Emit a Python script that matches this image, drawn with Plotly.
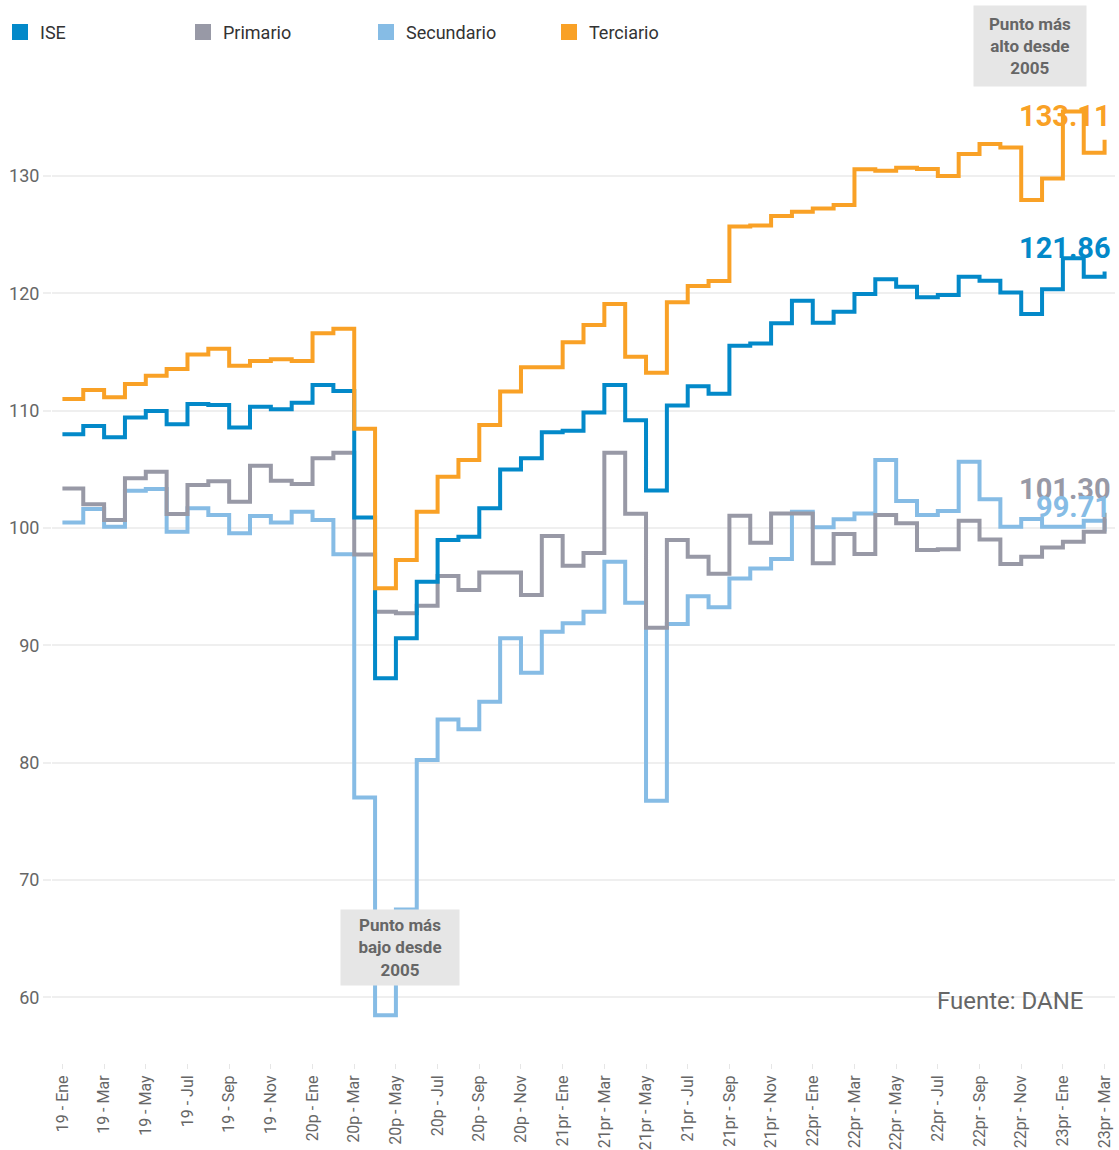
import plotly.graph_objects as go

months = ["Ene", "Feb", "Mar", "Abr", "May", "Jun", "Jul", "Ago", "Sep", "Oct", "Nov", "Dic"]
year_prefixes = ["19", "20p", "21pr", "22pr", "23pr"]
categories = [f"{y} - {m}" for y in year_prefixes for m in months][:51]
tick_labels = categories[::2]

ise = [108.0, 108.7, 107.73, 109.43, 109.97, 108.84, 110.57, 110.49, 108.58, 110.35, 110.12, 110.68,
       112.19, 111.68, 100.91, 87.19, 90.6, 95.42, 98.98, 99.26, 101.68, 105.0, 105.94, 108.16,
       108.3, 109.86, 112.19, 109.2, 103.2, 110.45, 112.08, 111.45, 115.54, 115.74, 117.45, 119.38,
       117.5, 118.44, 119.95, 121.2, 120.57, 119.67, 119.86, 121.43, 121.09, 120.09, 118.24, 120.35,
       122.99, 121.43, 121.86]
primario = [103.38, 102.02, 100.68, 104.24, 104.8, 101.19, 103.67, 104.0, 102.24, 105.31, 104.03, 103.75,
            105.94, 106.42, 97.75, 92.87, 92.73, 93.38, 95.91, 94.71, 96.22, 96.22, 94.29, 99.32,
            96.79, 97.87, 106.42, 101.22, 91.5, 98.98, 97.56, 96.1, 101.05, 98.75, 101.25, 101.25,
            96.99, 99.49, 97.78, 101.11, 100.4, 98.12, 98.2, 100.62, 99.03, 96.93, 97.56, 98.35,
            98.83, 99.68, 101.30]
secundario = [100.48, 101.62, 100.11, 103.18, 103.32, 99.69, 101.68, 101.11, 99.55, 101.02, 100.48, 101.39,
              100.68, 97.76, 77.04, 58.48, 67.49, 80.22, 83.69, 82.86, 85.19, 90.6, 87.66, 91.17,
              91.88, 92.87, 97.13, 93.64, 76.75, 91.82, 94.18, 93.24, 95.71, 96.56, 97.36, 101.39,
              100.06, 100.74, 101.25, 105.8, 102.3, 101.11, 101.45, 105.65, 102.45, 100.11, 100.77, 100.11,
              100.11, 100.62, 99.71]
terciario = [111.0, 111.76, 111.14, 112.28, 112.98, 113.55, 114.8, 115.29, 113.84, 114.24, 114.38, 114.24,
             116.6, 116.99, 108.47, 94.86, 97.27, 101.39, 104.37, 105.8, 108.78, 111.65, 113.7, 113.7,
             115.83, 117.3, 119.1, 114.6, 113.24, 119.24, 120.63, 121.06, 125.7, 125.8, 126.6, 126.97,
             127.25, 127.54, 130.58, 130.45, 130.72, 130.6, 130.0, 131.88, 132.74, 132.45, 127.96, 129.8,
             135.5, 132.0, 133.11]

series = [
    ("ISE", ise, "#0389c9"),
    ("Primario", primario, "#9899a6"),
    ("Secundario", secundario, "#86bce5"),
    ("Terciario", terciario, "#f9a126"),
]
draw_order = ["Secundario", "Primario", "ISE", "Terciario"]
label_order = ["Terciario", "ISE", "Primario", "Secundario"]

FONT = "Roboto"
fig = go.Figure()

# legend entries (square swatches)
for name, vals, color in series:
    fig.add_trace(go.Scatter(x=[None], y=[None], mode="markers", name=name,
                             marker=dict(symbol="square", size=16, color=color),
                             showlegend=True, hoverinfo="skip"))

lookup = {n: (v, c) for n, v, c in series}
for name in draw_order:
    vals, color = lookup[name]
    fig.add_trace(go.Scatter(x=categories, y=vals, mode="lines", name=name,
                             line=dict(shape="hv", width=4, color=color),
                             showlegend=False))

annotations = []
for name in label_order:
    vals, color = lookup[name]
    annotations.append(dict(x=categories[-1], y=vals[-1], xref="x", yref="y",
                            text=f"{vals[-1]:.2f}", showarrow=False,
                            xanchor="right", yanchor="middle", xshift=8, yshift=24,
                            font=dict(family=FONT, size=29, color=color, weight=700)))

box_font = dict(family=FONT, size=17, color="#666666", weight=700)
annotations.append(dict(xref="paper", yref="paper", x=0.3272, y=0.1197,
                        text="Punto más<br>bajo desde<br>2005", showarrow=False,
                        xanchor="center", yanchor="middle", bgcolor="#e6e6e6",
                        borderpad=4, width=110, height=67, font=box_font))
annotations.append(dict(xref="paper", yref="paper", x=0.9205, y=1.0495,
                        text="Punto más<br>alto desde<br>2005", showarrow=False,
                        xanchor="center", yanchor="middle", bgcolor="#e6e6e6",
                        borderpad=4, width=104, height=72, font=box_font))
annotations.append(dict(xref="paper", yref="paper", x=0.9715, y=0.064,
                        text="Fuente: DANE", showarrow=False,
                        xanchor="right", yanchor="middle",
                        font=dict(family=FONT, size=24, color="#666666")))

fig.update_layout(
    width=1119, height=1150,
    margin=dict(l=52, r=4, t=94, b=87, autoexpand=False),
    paper_bgcolor="white", plot_bgcolor="white",
    font=dict(family=FONT, color="#666666"),
    showlegend=True,
    legend=dict(orientation="h", xref="container", yref="container",
                x=-0.002, y=0.988, xanchor="left", yanchor="top",
                entrywidth=138, entrywidthmode="pixels",
                font=dict(family=FONT, size=18, color="#333333"),
                bgcolor="rgba(0,0,0,0)"),
    annotations=annotations,
    hovermode=False,
)
fig.update_xaxes(type="category", categoryorder="array", categoryarray=categories,
                 range=[-0.5, 50.5], tickmode="array", tickvals=tick_labels, ticktext=tick_labels,
                 tickangle=-90, tickfont=dict(family=FONT, size=16, color="#666666"),
                 ticks="outside", ticklen=5, tickcolor="#e6e6e6", tickwidth=1,
                 showgrid=False, showline=False, zeroline=False, automargin=False)
fig.update_yaxes(range=[54.4, 137.0], tickvals=[60, 70, 80, 90, 100, 110, 120, 130],
                 tickfont=dict(family=FONT, size=18, color="#666666"),
                 ticks="outside", ticklen=8, tickcolor="#efefef", tickwidth=2,
                 showgrid=True, gridcolor="#efefef", gridwidth=2,
                 showline=False, zeroline=False, automargin=False)

fig.write_html("out.html", config={"displayModeBar": False},
               post_script="document.body.style.margin='0';document.body.style.overflow='hidden';")
